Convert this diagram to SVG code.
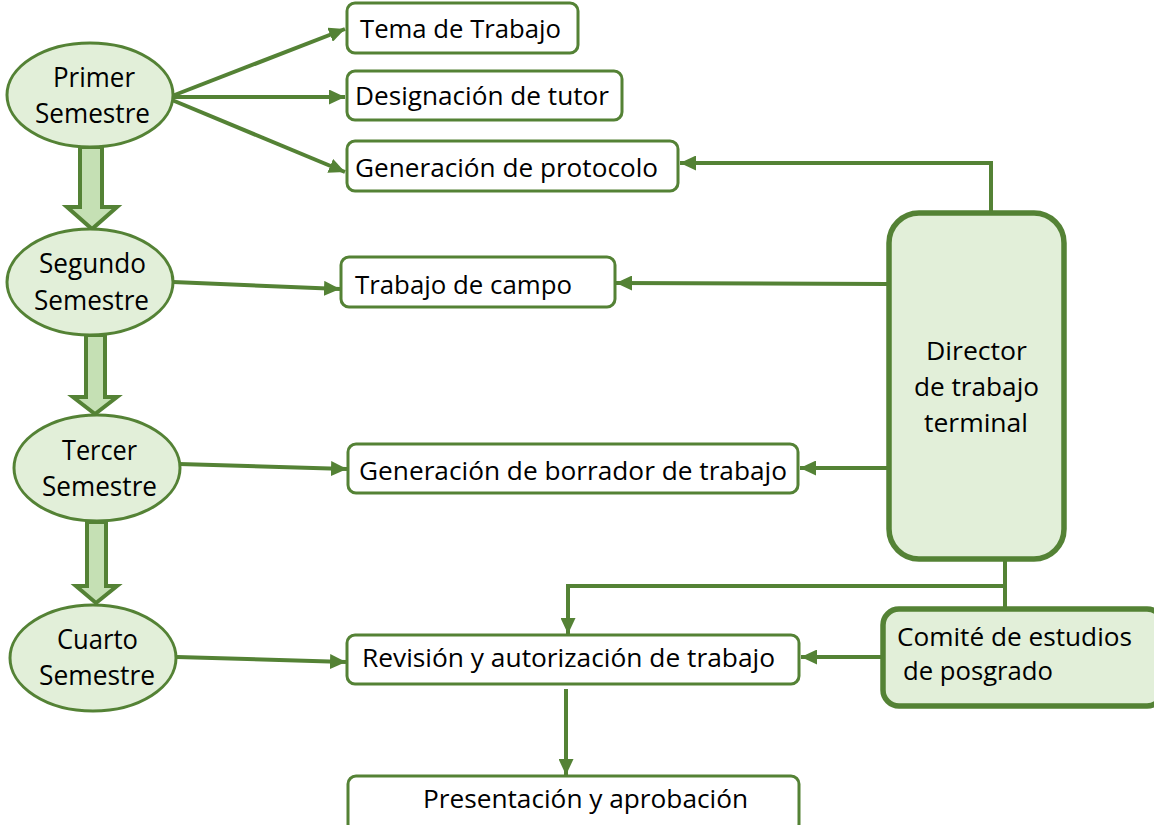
<svg xmlns="http://www.w3.org/2000/svg" width="1154" height="825" viewBox="0 0 1154 825">
<style>
.lbl{font-family:"Open Sans","Liberation Sans",sans-serif;font-size:26px;fill:#000}
.big{font-size:27px}
.ell{fill:#E2EFD9;stroke:#548235;stroke-width:3}
.box{fill:#fff;stroke:#548235;stroke-width:3}
.gbox{fill:#E2EFD9;stroke:#548235;stroke-width:5.5}
.blk{fill:#C5E0B4;stroke:#548235;stroke-width:4;stroke-linejoin:miter}
.con{fill:none;stroke:#548235;stroke-width:4}
.arr{marker-end:url(#ah)}
</style>
<defs>
<marker id="ah" markerUnits="userSpaceOnUse" markerWidth="17" markerHeight="15" refX="16" refY="7.5" orient="auto">
<path d="M0,0 L16,7.5 L0,15 z" fill="#548235"/>
</marker>
</defs>
<rect width="1154" height="825" fill="#fff"/>

<g id="connectors">
<line class="con arr" x1="172" y1="96" x2="345" y2="29"/>
<line class="con arr" x1="172" y1="97" x2="345" y2="97"/>
<line class="con arr" x1="172" y1="100" x2="345" y2="172"/>
<path class="con arr" d="M991 212 V163 H680"/>
<line class="con arr" x1="173" y1="282" x2="340" y2="289"/>
<line class="con arr" x1="888" y1="284" x2="616" y2="283"/>
<line class="con arr" x1="179" y1="464" x2="347" y2="469"/>
<line class="con arr" x1="888" y1="468" x2="800" y2="468"/>
<line class="con arr" x1="177" y1="657" x2="346" y2="662"/>
<path class="con" d="M1005 560 V608"/>
<path class="con arr" d="M1005 586 H568 V634"/>
<line class="con arr" x1="883" y1="657" x2="801" y2="657"/>
<line class="con arr" x1="566" y1="689" x2="566" y2="775"/>
<polygon class="blk" points="80,147 102,147 102,207 117,207 92,229 67,207 80,207"/>
<polygon class="blk" points="86,335 105,335 105,397 117,397 95,414 73,397 86,397"/>
<polygon class="blk" points="87,522 106,522 106,586 117,586 96,603 76,586 87,586"/>
</g>

<g id="primer">
<ellipse class="ell" cx="90" cy="95" rx="83" ry="52"/>
<text class="lbl big" x="53" y="87" textLength="82" lengthAdjust="spacingAndGlyphs">Primer</text>
<text class="lbl big" x="35" y="123" textLength="115" lengthAdjust="spacingAndGlyphs">Semestre</text>
</g>
<g id="segundo">
<ellipse class="ell" cx="90" cy="282" rx="83" ry="53"/>
<text class="lbl big" x="39" y="273" textLength="107" lengthAdjust="spacingAndGlyphs">Segundo</text>
<text class="lbl big" x="34" y="310" textLength="115" lengthAdjust="spacingAndGlyphs">Semestre</text>
</g>
<g id="tercer">
<ellipse class="ell" cx="97" cy="468" rx="83" ry="53"/>
<text class="lbl big" x="62" y="460" textLength="75" lengthAdjust="spacingAndGlyphs">Tercer</text>
<text class="lbl big" x="42" y="496" textLength="115" lengthAdjust="spacingAndGlyphs">Semestre</text>
</g>
<g id="cuarto">
<ellipse class="ell" cx="93" cy="658" rx="83" ry="53"/>
<text class="lbl big" x="57" y="649" textLength="81" lengthAdjust="spacingAndGlyphs">Cuarto</text>
<text class="lbl big" x="39" y="685" textLength="116" lengthAdjust="spacingAndGlyphs">Semestre</text>
</g>

<g id="tema">
<rect class="box" x="347" y="3" width="231" height="50" rx="8"/>
<text class="lbl" x="360" y="38" textLength="201" lengthAdjust="spacingAndGlyphs">Tema de Trabajo</text>
</g>
<g id="designacion">
<rect class="box" x="347" y="71" width="275" height="49" rx="8"/>
<text class="lbl" x="355" y="105" textLength="254" lengthAdjust="spacingAndGlyphs">Designación de tutor</text>
</g>
<g id="protocolo">
<rect class="box" x="347" y="141" width="331" height="50" rx="8"/>
<text class="lbl" x="355" y="177" textLength="303" lengthAdjust="spacingAndGlyphs">Generación de protocolo</text>
</g>
<g id="campo">
<rect class="box" x="341" y="257" width="274" height="50" rx="8"/>
<text class="lbl" x="355" y="294" textLength="217" lengthAdjust="spacingAndGlyphs">Trabajo de campo</text>
</g>
<g id="borrador">
<rect class="box" x="348" y="444" width="450" height="49" rx="8"/>
<text class="lbl" x="359" y="480" textLength="428" lengthAdjust="spacingAndGlyphs">Generación de borrador de trabajo</text>
</g>
<g id="revision">
<rect class="box" x="347" y="635" width="452" height="49" rx="8"/>
<text class="lbl" x="362" y="667" textLength="413" lengthAdjust="spacingAndGlyphs">Revisión y autorización de trabajo</text>
</g>
<g id="presentacion">
<rect class="box" x="348" y="776" width="451" height="56" rx="8"/>
<text class="lbl" x="423" y="808" textLength="325" lengthAdjust="spacingAndGlyphs">Presentación y aprobación</text>
</g>

<g id="director">
<rect class="gbox" x="889" y="213" width="175" height="346" rx="30"/>
<text class="lbl" x="926" y="360" textLength="101" lengthAdjust="spacingAndGlyphs">Director</text>
<text class="lbl" x="914" y="396" textLength="125" lengthAdjust="spacingAndGlyphs">de trabajo</text>
<text class="lbl" x="924" y="432" textLength="104" lengthAdjust="spacingAndGlyphs">terminal</text>
</g>
<g id="comite">
<rect class="gbox" x="883" y="609" width="280" height="97" rx="16"/>
<text class="lbl" x="897" y="646" textLength="235" lengthAdjust="spacingAndGlyphs">Comité de estudios</text>
<text class="lbl" x="903" y="680" textLength="150" lengthAdjust="spacingAndGlyphs">de posgrado</text>
</g>
</svg>
